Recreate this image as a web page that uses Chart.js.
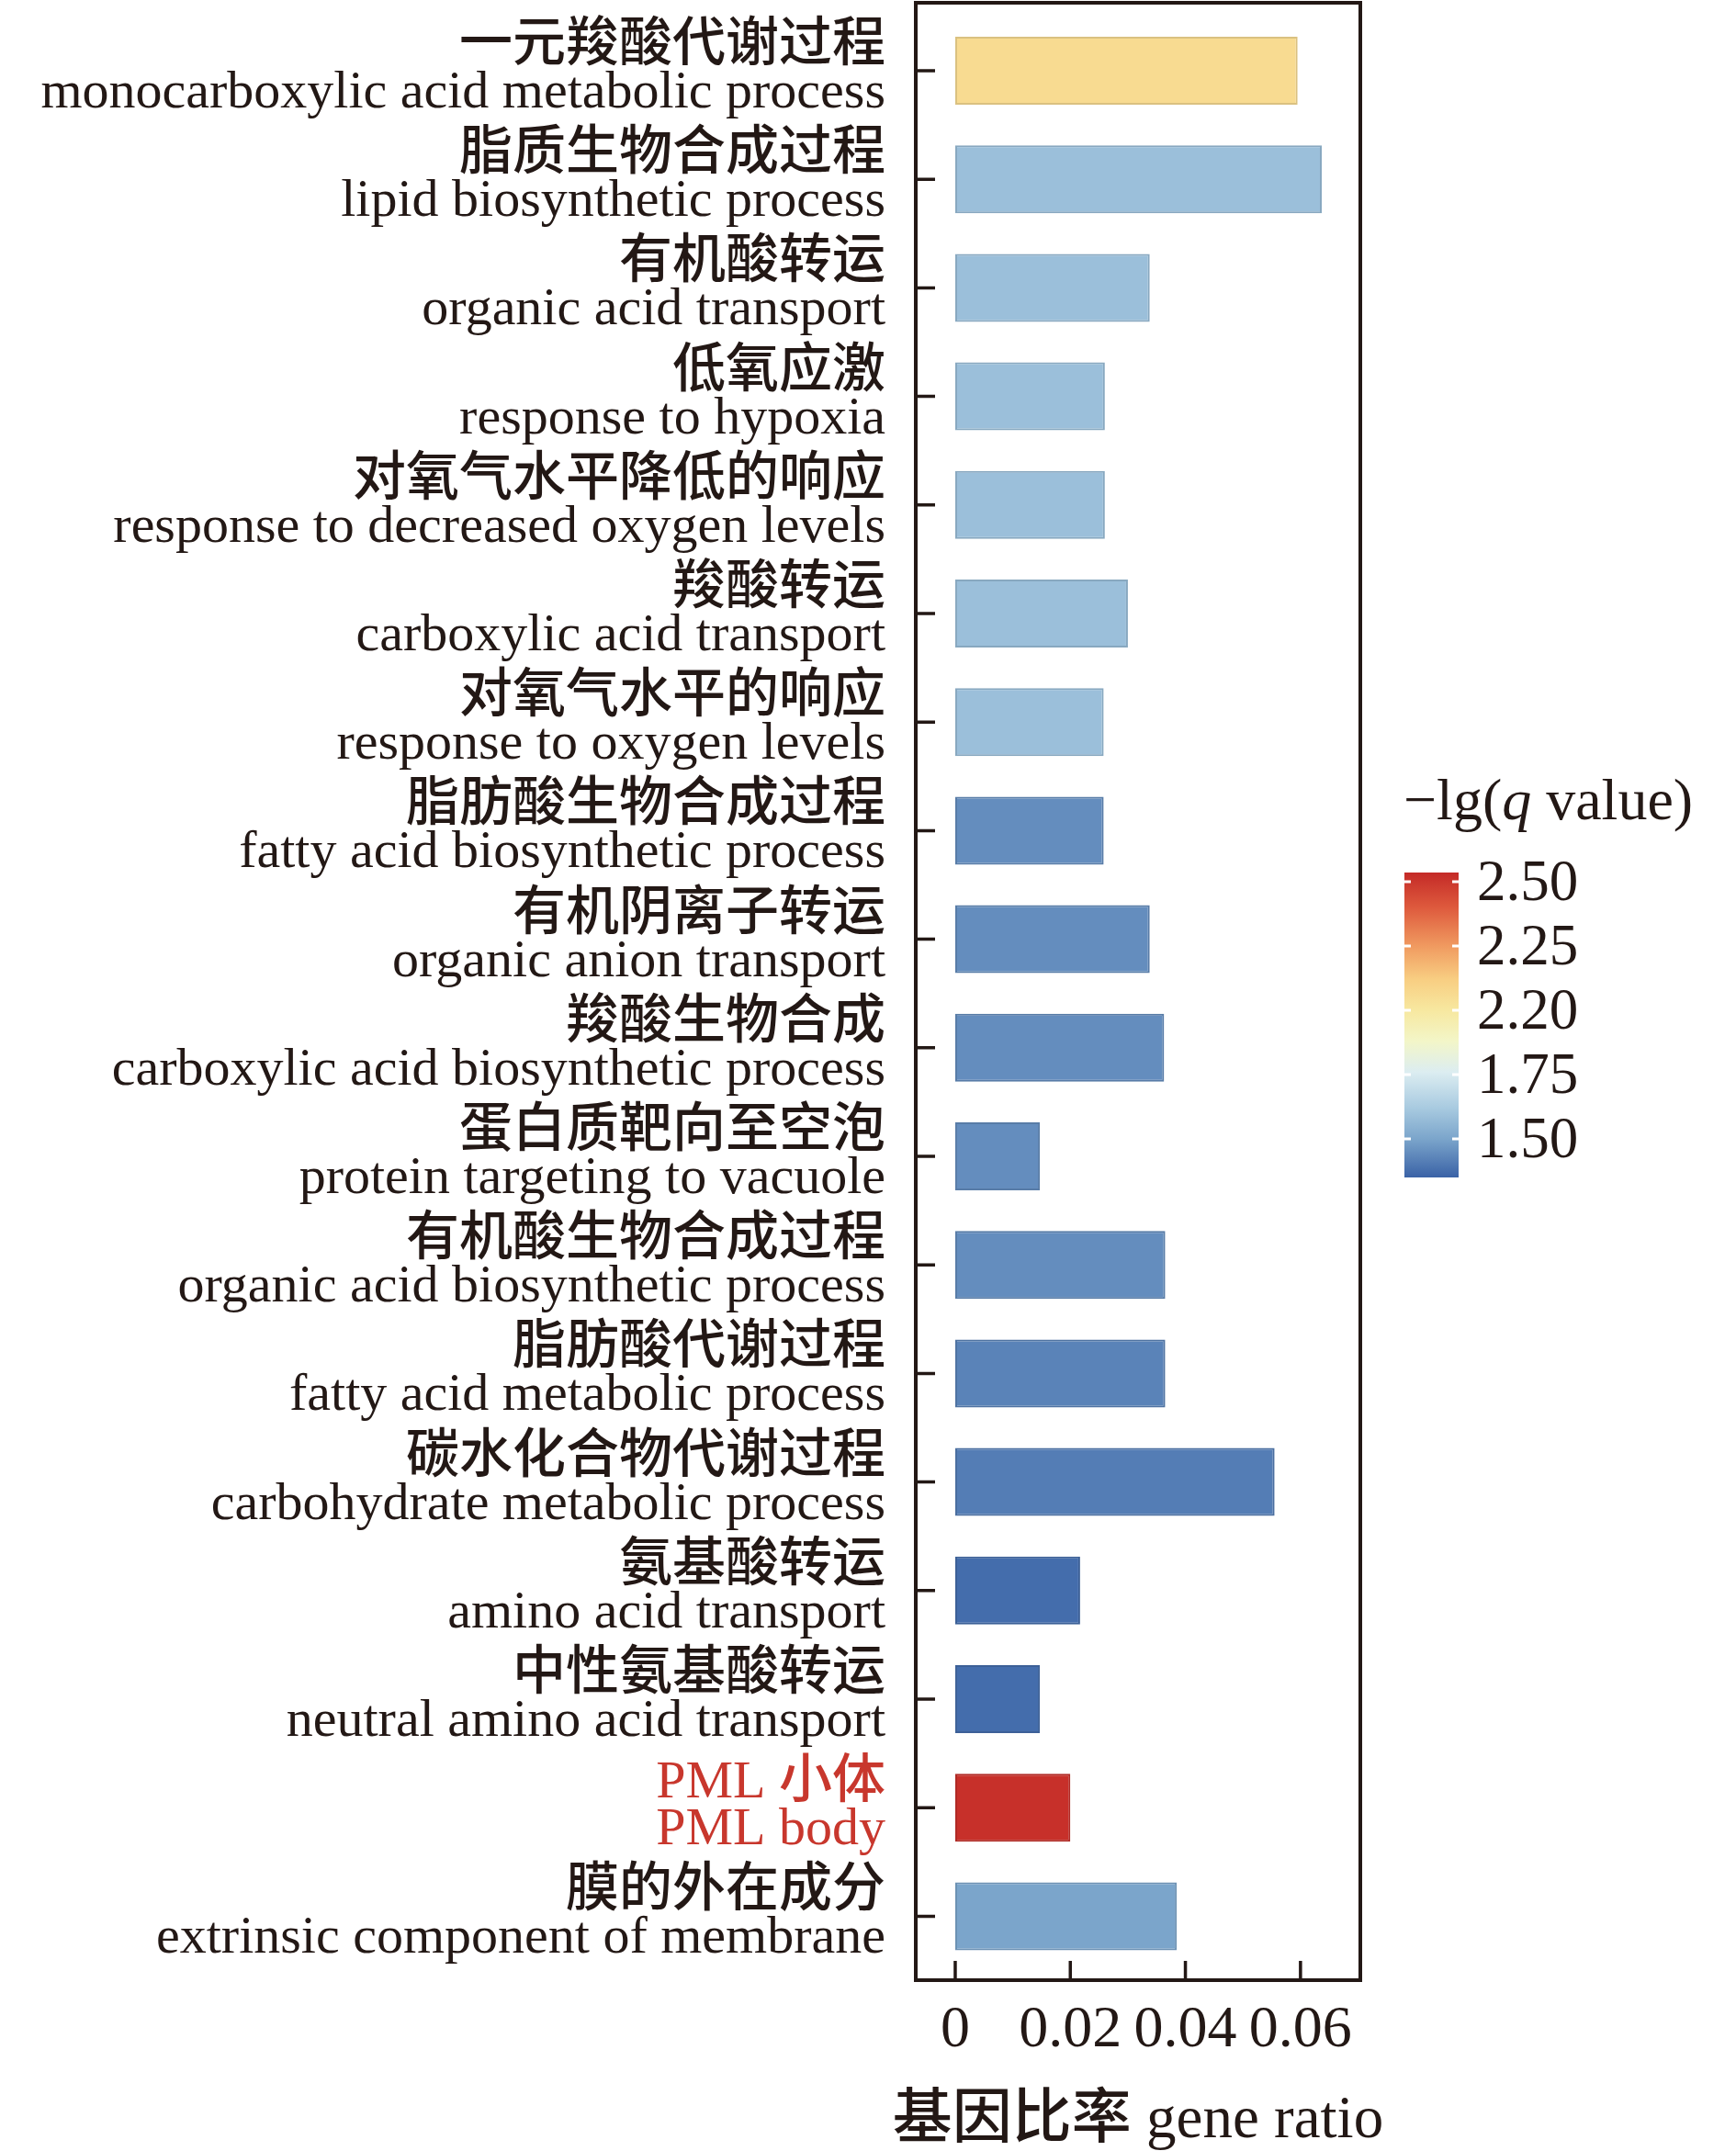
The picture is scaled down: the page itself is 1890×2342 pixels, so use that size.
<!DOCTYPE html>
<html lang="zh">
<head>
<meta charset="UTF-8">
<title>GO 富集 基因比率</title>
<script src="https://cdn.jsdelivr.net/npm/chart.js@4.4.0/dist/chart.umd.min.js"></script>
<style>
  html, body { margin: 0; padding: 0; background: #fff; }
  .wrap { width: 1890px; height: 2342px; position: relative; }
</style>
</head>
<body>
<div class="wrap"><canvas id="goChart"></canvas></div>
<script>
// --- data (top to bottom) ---
const categoriesZh = [
  '一元羧酸代谢过程', '脂质生物合成过程', '有机酸转运', '低氧应激',
  '对氧气水平降低的响应', '羧酸转运', '对氧气水平的响应', '脂肪酸生物合成过程',
  '有机阴离子转运', '羧酸生物合成', '蛋白质靶向至空泡', '有机酸生物合成过程',
  '脂肪酸代谢过程', '碳水化合物代谢过程', '氨基酸转运', '中性氨基酸转运',
  'PML 小体', '膜的外在成分'
];
const categoriesEn = [
  'monocarboxylic acid metabolic process', 'lipid biosynthetic process',
  'organic acid transport', 'response to hypoxia',
  'response to decreased oxygen levels', 'carboxylic acid transport',
  'response to oxygen levels', 'fatty acid biosynthetic process',
  'organic anion transport', 'carboxylic acid biosynthetic process',
  'protein targeting to vacuole', 'organic acid biosynthetic process',
  'fatty acid metabolic process', 'carbohydrate metabolic process',
  'amino acid transport', 'neutral amino acid transport',
  'PML body', 'extrinsic component of membrane'
];
const geneRatio = [
  0.0595, 0.0637, 0.0338, 0.0260, 0.0260, 0.0300, 0.0258, 0.0258, 0.0338,
  0.0363, 0.0147, 0.0365, 0.0365, 0.0555, 0.0217, 0.0147, 0.0200, 0.0385
];
// -lg(q value)
const negLgQ = [
  2.06, 1.585, 1.585, 1.585, 1.585, 1.585, 1.585, 1.446, 1.446,
  1.446, 1.446, 1.446, 1.424, 1.41, 1.374, 1.374, 2.52, 1.50
];
const highlighted = ['PML body'];

const xTicks = [0, 0.02, 0.04, 0.06];
const xTickLabels = ['0', '0.02', '0.04', '0.06'];
const xTitle = '基因比率 gene ratio';

const cbTickValues = [2.5, 2.25, 2.0, 1.75, 1.5];
const cbTickLabels = ['2.50', '2.25', '2.20', '1.75', '1.50'];

// --- styles ---
const INK = '#231815';
const RED = '#C8372D';
const SERIF = '"Liberation Serif", "Times New Roman", serif';
const CJK = '"Noto Sans CJK SC", sans-serif';
const CJK_WEIGHT = 500;
const LABEL_RIGHT = 964;
const LABEL_SIZE = 58;
const CB = { left: 1529, right: 1588, top: 950, bottom: 1282, min: 1.35, max: 2.536 };

// colour ramp for -lg(q)
const palette = [
  [1.35, '#3A62A6'], [1.50, '#7BA5CB'], [1.62, '#A8CAE0'], [1.76, '#DCEDF1'],
  [1.88, '#F3F6C8'], [2.00, '#F7E8A0'], [2.12, '#F8CE82'], [2.25, '#F09A60'],
  [2.40, '#DE5A3D'], [2.536, '#C42A27']
];

function hexRgb(h) {
  return [1, 3, 5].map(i => parseInt(h.slice(i, i + 2), 16));
}

function colorFor(v, k) {
  k = k || 1;
  let lo = palette[0], hi = palette[palette.length - 1];
  for (let i = 0; i < palette.length - 1; i++) {
    if (v >= palette[i][0] && v <= palette[i + 1][0]) { lo = palette[i]; hi = palette[i + 1]; break; }
  }
  const t = hi[0] === lo[0] ? 0 : Math.min(1, Math.max(0, (v - lo[0]) / (hi[0] - lo[0])));
  const a = hexRgb(lo[1]), b = hexRgb(hi[1]);
  const c = a.map((x, i) => Math.round((x + (b[i] - x) * t) * k));
  return `rgb(${c[0]},${c[1]},${c[2]})`;
}

function isCJK(ch) {
  return /[\u3000-\u9fff\uff00-\uffef]/.test(ch);
}

// draws text with latin runs in serif and chinese runs in sans
function drawMixed(ctx, text, x, y, size, align, color) {
  const runs = [];
  for (const ch of text) {
    const c = isCJK(ch);
    if (runs.length && runs[runs.length - 1].cjk === c) runs[runs.length - 1].t += ch;
    else runs.push({ t: ch, cjk: c });
  }
  const fontOf = r => r.cjk ? `${CJK_WEIGHT} ${size}px ${CJK}` : `${size}px ${SERIF}`;
  let total = 0;
  runs.forEach(r => { ctx.font = fontOf(r); r.w = ctx.measureText(r.t).width; total += r.w; });
  let cx = align === 'right' ? x - total : align === 'center' ? x - total / 2 : x;
  ctx.textAlign = 'left';
  ctx.textBaseline = 'alphabetic';
  ctx.fillStyle = color;
  runs.forEach(r => { ctx.font = fontOf(r); ctx.fillText(r.t, cx, y); cx += r.w; });
}

function cbPixel(v) {
  return CB.top + (CB.max - v) / (CB.max - CB.min) * (CB.bottom - CB.top);
}

const decor = {
  id: 'decor',
  afterDraw(chart) {
    const { ctx, chartArea: a, scales: { x, y } } = chart;
    ctx.save();

    // frame + inward ticks
    ctx.strokeStyle = INK;
    ctx.lineWidth = 4;
    ctx.strokeRect(a.left, a.top, a.right - a.left, a.bottom - a.top);
    ctx.lineWidth = 3.5;
    ctx.beginPath();
    xTicks.forEach(v => {
      const px = x.getPixelForValue(v);
      ctx.moveTo(px, a.bottom);
      ctx.lineTo(px, a.bottom - 21);
    });
    categoriesEn.forEach((_, i) => {
      const py = y.getPixelForValue(i);
      ctx.moveTo(a.left, py);
      ctx.lineTo(a.left + 21, py);
    });
    ctx.stroke();

    // two-line category labels
    categoriesEn.forEach((en, i) => {
      const py = y.getPixelForValue(i);
      const col = highlighted.includes(en) ? RED : INK;
      drawMixed(ctx, categoriesZh[i], LABEL_RIGHT, py - 11, LABEL_SIZE, 'right', col);
      drawMixed(ctx, en, LABEL_RIGHT, py + 40, LABEL_SIZE, 'right', col);
    });

    // x axis title
    drawMixed(ctx, xTitle, (a.left + a.right) / 2, 2327, 65, 'center', INK);

    // colour bar
    const g = ctx.createLinearGradient(0, CB.top, 0, CB.bottom);
    palette.forEach(([v, c]) => {
      g.addColorStop(Math.min(1, Math.max(0, (CB.max - v) / (CB.max - CB.min))), c);
    });
    ctx.fillStyle = g;
    ctx.fillRect(CB.left, CB.top, CB.right - CB.left, CB.bottom - CB.top);
    ctx.strokeStyle = '#fff';
    ctx.lineWidth = 3;
    ctx.beginPath();
    cbTickValues.forEach(v => {
      const py = cbPixel(v);
      ctx.moveTo(CB.left, py); ctx.lineTo(CB.left + 7, py);
      ctx.moveTo(CB.right - 7, py); ctx.lineTo(CB.right, py);
    });
    ctx.stroke();

    ctx.fillStyle = INK;
    ctx.font = `63px ${SERIF}`;
    ctx.textAlign = 'left';
    ctx.textBaseline = 'middle';
    cbTickValues.forEach((v, i) => ctx.fillText(cbTickLabels[i], 1608, cbPixel(v) + 3));

    // colour bar title: −lg(q value), q in italics
    ctx.textBaseline = 'alphabetic';
    let tx = 1528;
    [['\u2212lg(', ''], ['q', 'italic '], [' value)', '']].forEach(([t, st]) => {
      ctx.font = `${st}64px ${SERIF}`;
      ctx.fillText(t, tx, 892);
      tx += ctx.measureText(t).width;
    });

    ctx.restore();
  }
};

function draw() {
  const fills = negLgQ.map(v => colorFor(v));
  const edges = negLgQ.map(v => colorFor(v, 0.88));

  new Chart(document.getElementById('goChart'), {
    type: 'bar',
    data: {
      datasets: [{
        data: geneRatio.map((r, i) => ({ x: r, y: i })),
        backgroundColor: fills,
        borderColor: edges,
        borderWidth: 2,
        borderSkipped: false,
        barPercentage: 0.626,
        categoryPercentage: 1
      }]
    },
    options: {
      indexAxis: 'y',
      responsive: true,
      maintainAspectRatio: false,
      devicePixelRatio: 1,
      animation: false,
      layout: { padding: { top: 3, right: 409, left: 0, bottom: 0 } },
      plugins: { legend: { display: false }, tooltip: { enabled: false } },
      scales: {
        x: {
          type: 'linear',
          min: -0.00686,
          max: 0.0704,
          grid: { display: false },
          border: { display: false },
          afterBuildTicks: s => { s.ticks = xTicks.map(v => ({ value: v })); },
          afterFit: s => { s.height = 186; },
          ticks: {
            autoSkip: false,
            maxRotation: 0,
            padding: 15,
            color: INK,
            font: { family: SERIF, size: 64, lineHeight: 1 },
            callback: (v, i) => xTickLabels[i]
          }
        },
        y: {
          type: 'linear',
          reverse: true,
          offset: false,
          min: -0.626,
          max: 17.589,
          grid: { display: false, offset: false },
          border: { display: false },
          afterBuildTicks: s => { s.ticks = categoriesEn.map((_, i) => ({ value: i })); },
          ticks: { display: false },
          afterFit: s => { s.width = 997; }
        }
      }
    },
    plugins: [decor]
  });
}

Promise.all([
  document.fonts.load(`${CJK_WEIGHT} 58px ${CJK}`, '一元'),
  document.fonts.load(`58px ${SERIF}`),
  document.fonts.load(`italic 64px ${SERIF}`)
]).then(draw, draw);
</script>
</body>
</html>
